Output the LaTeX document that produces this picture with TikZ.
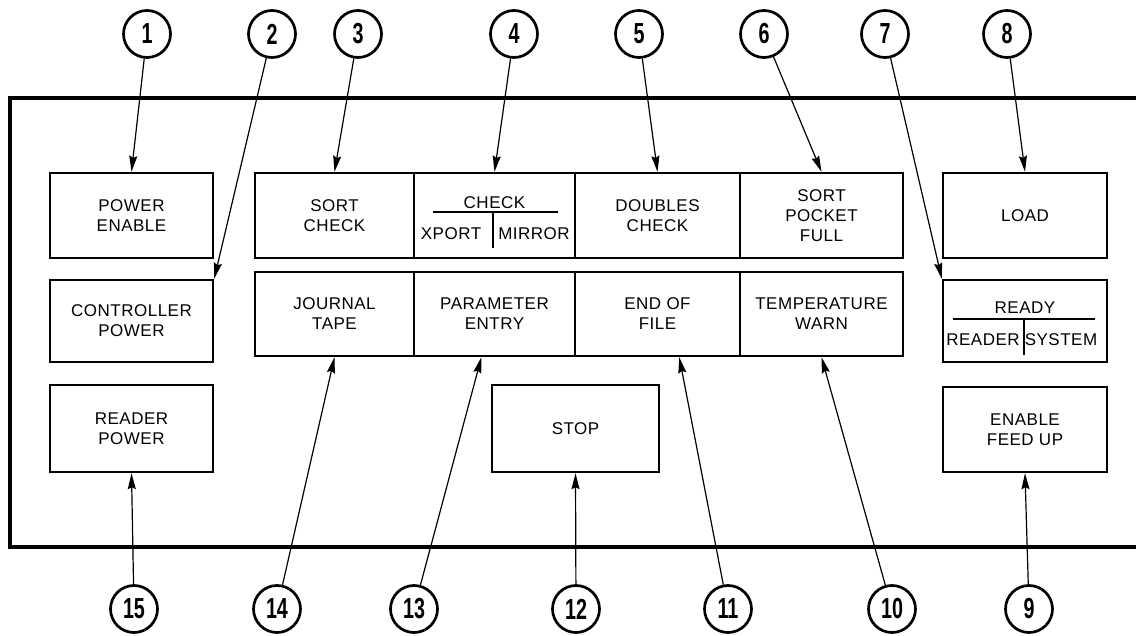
\documentclass[tikz,border=0pt]{standalone}
\usepackage{fontspec}
\usepackage{graphicx}
\setmainfont{Liberation Sans}[LetterSpace=3]
\newfontfamily\numfont{Liberation Sans}
\usetikzlibrary{arrows.meta,calc}
\newcommand\numlbl[1]{\scalebox{0.68}[1]{#1}}
\begin{document}
\begin{tikzpicture}[x=1pt,y=-1pt,
  panel/.style={line width=4.5pt},
  lamp/.style={draw,line width=2.4pt,inner sep=0pt,align=center,font=\fontsize{17}{20}\selectfont},
  txt/.style={inner sep=0pt,font=\fontsize{17}{20}\selectfont},
  num/.style={circle,draw,line width=2.7pt,minimum size=47pt,inner sep=0pt,font=\numfont\bfseries\fontsize{29}{29}\selectfont},
  conn/.style={line width=1.2pt,-{Stealth[length=16pt,width=8pt,inset=2pt]}},
  divider/.style={line width=1.2pt}]
\useasboundingbox (0,0) rectangle (1136,636);
\fill[white] (0,0) rectangle (1136,636);
% panel
\draw[panel] (1140,98) -- (10,98) -- (10,547) -- (1140,547);
% left column
\node[lamp,minimum width=163pt,minimum height=85pt] (pe) at (131.5,215.5) {POWER\\ENABLE};
\node[lamp,minimum width=163pt,minimum height=82pt] (cp) at (131.5,321) {CONTROLLER\\POWER};
\node[lamp,minimum width=163pt,minimum height=87pt] (rp) at (131.5,428.5) {READER\\POWER};
% grid row 1
\node[lamp,minimum width=159pt,minimum height=85pt] (sc) at (334.5,215.5) {SORT\\CHECK};
\node[lamp,minimum width=161pt,minimum height=85pt] (chk) at (494.5,215.5) {};
\node[lamp,minimum width=165pt,minimum height=85pt] (dc) at (657.5,215.5) {DOUBLES\\CHECK};
\node[lamp,minimum width=163pt,minimum height=85pt] (spf) at (821.5,215.5) {SORT\\POCKET\\FULL};
% grid row 2
\node[lamp,minimum width=159pt,minimum height=84pt] (jt) at (334.5,314) {JOURNAL\\TAPE};
\node[lamp,minimum width=161pt,minimum height=84pt] (pen) at (494.5,314) {PARAMETER\\ENTRY};
\node[lamp,minimum width=165pt,minimum height=84pt] (eof) at (657.5,314) {END OF\\FILE};
\node[lamp,minimum width=163pt,minimum height=84pt] (tw) at (821.5,314) {TEMPERATURE\\WARN};
% stop
\node[lamp,minimum width=167pt,minimum height=87pt] (stp) at (575.5,428.5) {STOP};
% right column
\node[lamp,minimum width=164pt,minimum height=85pt] (ld) at (1025,215.5) {LOAD};
\node[lamp,minimum width=164pt,minimum height=82pt] (rdy) at (1025,321) {};
\node[lamp,minimum width=164pt,minimum height=85pt] (efu) at (1025,429.5) {ENABLE\\FEED UP};
% check box inner
\node[txt] (chkt) at (494.5,203) {CHECK};
\node[txt] (chkx) at (451,234) {XPORT};
\node[txt] (chkm) at (534,234) {MIRROR};
\draw[divider] (433,212) -- (558,212);
\draw[divider] (493,212) -- (493,248);
% ready box inner
\node[txt] (rdyt) at (1025,308) {READY};
\node[txt] (rdyr) at (983,340) {READER};
\node[txt] (rdys) at (1061,340) {SYSTEM};
\draw[divider] (953,319) -- (1095,319);
\draw[divider] (1024,319) -- (1024,355);
% top numbers
\node[num] (c1) at (147,34) {\numlbl{1}};
\node[num] (c2) at (272,34) {\numlbl{2}};
\node[num] (c3) at (358,34) {\numlbl{3}};
\node[num] (c4) at (514,34) {\numlbl{4}};
\node[num] (c5) at (639,34) {\numlbl{5}};
\node[num] (c6) at (764,34) {\numlbl{6}};
\node[num] (c7) at (885,34) {\numlbl{7}};
\node[num] (c8) at (1007,34) {\numlbl{8}};
% bottom numbers
\node[num] (c9) at (1029,609) {\numlbl{9}};
\node[num] (c10) at (892,609) {\numlbl{10}};
\node[num] (c11) at (728,609) {\numlbl{11}};
\node[num] (c12) at (576,609) {\numlbl{12}};
\node[num] (c13) at (414,609) {\numlbl{13}};
\node[num] (c14) at (277,609) {\numlbl{14}};
\node[num] (c15) at (134,609) {\numlbl{15}};
% targets
\coordinate (t11) at ($(eof.south west)!0.63!(eof.south east)$);
\coordinate (t13) at ($(pen.south west)!0.42!(pen.south east)$);
% connectors
\draw[conn] (c1) -- (pe.north);
\draw[conn] (c2) -- (cp.north east);
\draw[conn] (c3) -- (sc.north);
\draw[conn] (c4) -- (chk.north);
\draw[conn] (c5) -- (dc.north);
\draw[conn] (c6) -- (spf.north);
\draw[conn] (c7) -- (rdy.north west);
\draw[conn] (c8) -- (ld.north);
\draw[conn] (c9) -- (efu.south);
\draw[conn] (c10) -- (tw.south);
\draw[conn] (c11) -- (t11);
\draw[conn] (c12) -- (stp.south);
\draw[conn] (c13) -- (t13);
\draw[conn] (c14) -- (jt.south);
\draw[conn] (c15) -- (rp.south);
\end{tikzpicture}
\end{document}
